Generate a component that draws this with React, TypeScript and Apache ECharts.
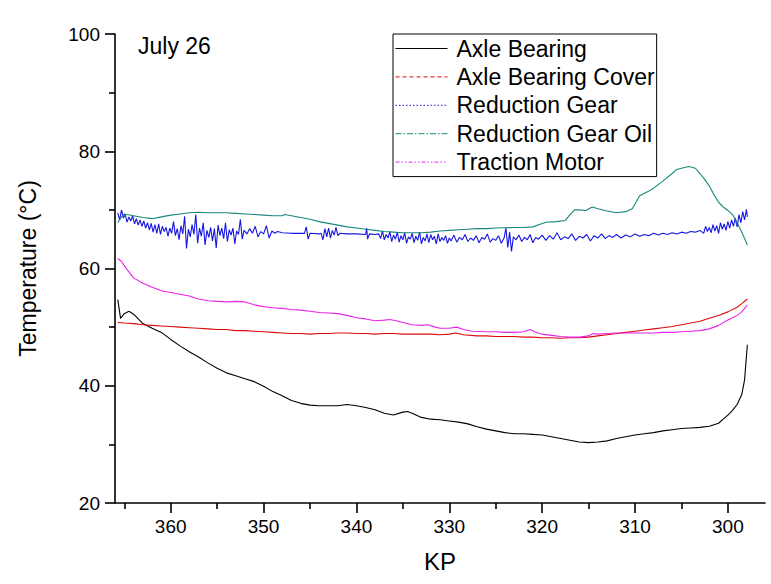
import React, { useEffect, useRef } from "react";
import * as echarts from "echarts";

const FONT = "'Liberation Sans', Arial, Helvetica, sans-serif";

const seriesNames = [
  "Axle Bearing",
  "Axle Bearing Cover",
  "Reduction Gear",
  "Reduction Gear Oil",
  "Traction Motor",
];
const seriesColors = ["#000000", "#dd0a0a", "#1616e2", "#17877c", "#e824e8"];

const xMajorTicks = [300, 310, 320, 330, 340, 350, 360];
const xMinorTicks = [305, 315, 325, 335, 345, 355, 365];
const xRange = [296, 366];
const yRange = [20, 100];

// [KP, temperature °C]
const axleBearing: [number, number][] = [
  [365.7, 54.7], [365.4, 51.5], [365.0, 52.3], [364.5, 52.7], [364, 52.2], [363, 50.6],
  [362, 49.8], [361, 49.1], [360, 47.9], [359, 46.8], [358, 45.8], [357, 44.9], [356, 43.9],
  [355, 43.0], [354, 42.2], [353, 41.7], [352, 41.2], [351, 40.7], [350, 39.9], [349, 39.0],
  [348, 38.3], [347, 37.5], [346, 37.0], [345, 36.7], [344, 36.6], [343, 36.6], [342, 36.6],
  [341, 36.8], [340, 36.6], [339, 36.3], [338, 35.9], [337, 35.3], [336, 35.0], [335, 35.5],
  [334.5, 35.6], [334, 35.3], [333, 34.6], [332, 34.3], [331, 34.2], [330, 34.0], [329, 33.8],
  [328, 33.5], [327, 33.0], [326, 32.6], [325, 32.3], [324, 32.0], [323, 31.8], [322, 31.8],
  [321, 31.7], [320, 31.6], [319, 31.3], [318, 31.0], [317, 30.7], [316, 30.4], [315, 30.3],
  [314, 30.4], [313, 30.6], [312, 31.0], [311, 31.3], [310, 31.6], [309, 31.8], [308, 32.0],
  [307, 32.3], [306, 32.5], [305, 32.7], [304, 32.8], [303, 32.9], [302, 33.1], [301, 33.6],
  [300.5, 34.3], [300, 35.0], [299.5, 35.8], [299, 36.8], [298.5, 38.5], [298.2, 41.0],
  [297.9, 47.0],
];

const axleBearingCover: [number, number][] = [
  [365.7, 50.8], [365, 50.7], [364, 50.6], [363, 50.4], [362, 50.3], [361, 50.2], [360, 50.1],
  [359, 50.0], [358, 49.9], [357, 49.8], [356, 49.7], [355, 49.6], [354, 49.6], [353, 49.4],
  [352, 49.4], [351, 49.3], [350, 49.2], [349, 49.1], [348, 49.0], [347, 48.9], [346, 48.9],
  [345, 48.8], [344, 48.9], [343, 48.9], [342, 49.0], [341, 49.0], [340, 48.9], [339, 48.9],
  [338, 48.8], [337, 48.9], [336, 48.9], [335, 48.8], [334, 48.8], [333, 48.8], [332, 48.8],
  [331, 48.7], [330, 48.8], [329.3, 49.0], [328.5, 48.7], [327, 48.5], [326, 48.5], [325, 48.4],
  [324, 48.4], [323, 48.4], [322, 48.3], [321, 48.3], [320, 48.2], [319, 48.2], [318, 48.1],
  [317, 48.2], [316, 48.2], [315, 48.3], [314, 48.5], [313, 48.7], [312, 48.9], [311, 49.1],
  [310, 49.3], [309, 49.5], [308, 49.7], [307, 49.9], [306, 50.1], [305, 50.4], [304, 50.7],
  [303, 51.0], [302, 51.5], [301, 52.0], [300, 52.6], [299, 53.4], [298.5, 54.0], [297.9, 54.8],
];

const reductionGear: [number, number][] = [
  [365.7, 69.5], [365.5, 68.3], [365.3, 70.0], [365.1, 68.6], [364.9, 69.2], [364.7, 67.9],
  [364.5, 68.8], [364.3, 68.1], [364.1, 69.0], [363.9, 67.6], [363.7, 68.5], [363.5, 67.4],
  [363.3, 68.3], [363.1, 67.2], [362.9, 68.1], [362.7, 66.9], [362.5, 67.8], [362.3, 66.6],
  [362.1, 67.7], [361.9, 66.2], [361.7, 67.5], [361.5, 66.0], [361.3, 67.6], [361.1, 65.8],
  [360.9, 67.2], [360.7, 66.3], [360.5, 67.0], [360.3, 65.5], [360.1, 66.9], [359.9, 66.0],
  [359.7, 68.0], [359.5, 65.6], [359.3, 66.8], [359.1, 64.9], [358.9, 67.3], [358.7, 65.9],
  [358.5, 68.9], [358.3, 63.4], [358.1, 66.7], [357.9, 65.4], [357.7, 67.5], [357.5, 65.8],
  [357.3, 69.2], [357.1, 64.3], [356.9, 66.9], [356.7, 65.5], [356.5, 67.8], [356.3, 64.0],
  [356.1, 66.5], [355.9, 65.3], [355.7, 67.0], [355.5, 64.7], [355.3, 66.8], [355.1, 63.5],
  [354.9, 67.4], [354.7, 65.6], [354.5, 66.9], [354.3, 65.1], [354.1, 67.8], [353.9, 64.6],
  [353.7, 66.6], [353.5, 65.7], [353.3, 66.9], [353.1, 64.2], [352.9, 66.4], [352.7, 65.8],
  [352.5, 68.4], [352.3, 65.0], [352.1, 66.5], [351.8, 65.9], [351.5, 66.8], [351.2, 66.0],
  [350.9, 67.2], [350.6, 65.4], [350.3, 66.3], [350.0, 65.9], [349.7, 67.3], [349.4, 65.2],
  [349.1, 66.4], [348.8, 66.0], [348.5, 66.3], [348, 66.1], [347, 66.0], [346, 66.0],
  [345.6, 66.0], [345.4, 67.1], [345.2, 65.0], [345.0, 66.0], [344, 65.9], [343.8, 66.0],
  [343.6, 64.9], [343.4, 66.8], [343.2, 65.4], [343.0, 66.9], [342.8, 65.2], [342.6, 66.5],
  [342.4, 65.7], [342.2, 67.0], [342.0, 65.6], [341.8, 66.0], [341, 65.9], [340, 65.9],
  [339, 65.8], [338.9, 66.9], [338.8, 65.0], [338.6, 65.9], [338, 65.8], [337.6, 65.9],
  [337.4, 65.1], [337.2, 66.4], [337.0, 64.9], [336.8, 65.8], [336.6, 65.2], [336.4, 66.3],
  [336.2, 64.6], [336.0, 65.7], [335.8, 65.0], [335.6, 66.2], [335.4, 64.5], [335.2, 65.6],
  [335.0, 64.9], [334.8, 66.1], [334.6, 64.3], [334.4, 65.4], [334.2, 65.0], [334.0, 66.0],
  [333.8, 64.4], [333.6, 65.5], [333.4, 64.8], [333.2, 66.2], [333.0, 64.2], [332.8, 65.3],
  [332.6, 64.7], [332.4, 65.9], [332.2, 64.4], [332.0, 65.8], [331.8, 64.9], [331.6, 65.5],
  [331.4, 64.2], [331.2, 65.9], [331.0, 64.6], [330.8, 65.3], [330.6, 64.8], [330.4, 65.6],
  [330.2, 64.3], [330.0, 65.2], [329.8, 64.7], [329.5, 65.7], [329.2, 64.5], [328.9, 65.3],
  [328.6, 64.9], [328.3, 65.8], [328.0, 64.6], [327.7, 65.2], [327.4, 64.8], [327.1, 65.6],
  [326.8, 64.4], [326.5, 65.3], [326.2, 65.0], [325.9, 65.9], [325.6, 64.5], [325.3, 65.1],
  [325.0, 64.8], [324.7, 65.6], [324.4, 64.3], [324.1, 65.2], [323.9, 66.9], [323.7, 63.6],
  [323.5, 66.2], [323.3, 62.9], [323.1, 65.4], [322.8, 64.9], [322.5, 65.7], [322.2, 64.6],
  [321.9, 65.3], [321.6, 64.9], [321.3, 65.8], [321.0, 64.4], [320.7, 65.3], [320.4, 65.0],
  [320.0, 65.7], [319.6, 64.8], [319.2, 65.6], [318.8, 65.0], [318.4, 66.1], [318.0, 64.9],
  [317.6, 65.4], [317.2, 65.1], [316.8, 65.9], [316.4, 64.8], [316.0, 65.5], [315.6, 65.2],
  [315.2, 65.8], [314.8, 64.7], [314.4, 65.6], [314.0, 65.2], [313.6, 65.9], [313.2, 65.1],
  [312.8, 65.6], [312.4, 65.3], [312.0, 65.8], [311.5, 65.2], [311.0, 65.7], [310.5, 65.4],
  [310.0, 65.9], [309.5, 65.5], [309.0, 65.8], [308.5, 65.6], [308.0, 66.0], [307.5, 65.7],
  [307.0, 66.0], [306.5, 65.8], [306.0, 66.1], [305.5, 65.9], [305.0, 66.2], [304.5, 66.0],
  [304.0, 66.3], [303.5, 66.2], [303.0, 66.5], [302.6, 66.0], [302.4, 67.2], [302.2, 66.3],
  [302.0, 67.0], [301.8, 66.1], [301.6, 67.5], [301.4, 66.4], [301.2, 67.3], [301.0, 66.0],
  [300.8, 67.8], [300.6, 66.7], [300.4, 67.6], [300.2, 66.5], [300.0, 68.0], [299.8, 66.9],
  [299.6, 68.3], [299.4, 67.2], [299.2, 68.6], [299.0, 67.1], [298.8, 69.2], [298.6, 67.8],
  [298.4, 69.7], [298.2, 68.3], [298.0, 70.1], [297.9, 68.8],
];

const reductionGearOil: [number, number][] = [
  [365.7, 67.8], [365.4, 68.6], [365.0, 69.3], [364, 69.0], [363, 68.7], [362, 68.5],
  [361, 68.8], [360, 69.1], [359, 69.3], [358, 69.5], [357, 69.6], [356, 69.5], [355, 69.5],
  [354, 69.5], [353, 69.4], [352, 69.3], [351, 69.2], [350, 69.1], [349, 69.0], [348, 69.0],
  [347.7, 69.2], [347, 69.0], [346, 68.7], [345, 68.4], [344, 68.0], [343, 67.7], [342, 67.4],
  [341, 67.1], [340, 66.9], [339, 66.7], [338, 66.5], [337, 66.3], [336, 66.2], [335, 66.1],
  [334, 66.1], [333, 66.1], [332, 66.2], [331, 66.4], [330, 66.5], [329, 66.6], [328, 66.7],
  [327, 66.8], [326, 66.8], [325, 66.9], [324, 66.95], [323, 67.0], [322, 67.0], [321, 67.1],
  [320.3, 67.5], [319.6, 67.9], [318.5, 68.0], [317.5, 68.2], [317, 69.2], [316.5, 70.0],
  [316, 70.0], [315.3, 69.9], [314.6, 70.5], [314, 70.2], [313, 69.8], [312, 69.5],
  [311, 69.7], [310.3, 70.2], [310, 71.0], [309.5, 72.4], [308.5, 73.2], [308, 73.7],
  [307, 74.9], [306, 76.2], [305.5, 76.9], [305, 77.1], [304.2, 77.4], [303.5, 77.1],
  [303, 76.2], [302.5, 75.2], [302, 74.1], [301.5, 72.6], [301, 71.3], [300.5, 70.5],
  [300, 69.9], [299.5, 69.2], [299, 67.8], [298.5, 66.2], [297.9, 64.0],
];

const tractionMotor: [number, number][] = [
  [365.7, 61.7], [365.3, 61.2], [364.7, 59.8], [364, 58.4], [363, 57.5], [362, 56.8],
  [361, 56.2], [360, 55.9], [359, 55.6], [358, 55.3], [357, 54.8], [356, 54.5], [355, 54.4],
  [354, 54.3], [353, 54.4], [352, 54.3], [351, 53.8], [350, 53.5], [349, 53.3], [348, 53.2],
  [347, 53.0], [346, 52.9], [345, 52.7], [344, 52.5], [343, 52.4], [342, 52.3], [341, 52.0],
  [340, 51.6], [339, 51.4], [338, 51.1], [337, 51.2], [336.4, 51.3], [335.5, 51.0],
  [335, 50.8], [334, 50.4], [333, 50.3], [332.3, 50.4], [331.5, 50.0], [331, 49.8],
  [330, 49.8], [329.2, 50.0], [328.5, 49.6], [327.5, 49.3], [326, 49.2], [325, 49.2],
  [324, 49.1], [323, 49.1], [322, 49.2], [321.3, 49.6], [320.5, 49.0], [320, 48.8],
  [319, 48.6], [318, 48.4], [317, 48.3], [316, 48.3], [315, 48.5], [314.5, 48.9],
  [314, 48.8], [313, 48.9], [312, 49.0], [311, 49.0], [310, 49.0], [309, 49.0], [308, 49.0],
  [307, 49.1], [306, 49.1], [305, 49.2], [304, 49.3], [303, 49.4], [302, 49.7], [301, 50.3],
  [300, 51.2], [299, 52.0], [298.5, 52.6], [297.9, 53.8],
];

const seriesData = [axleBearing, axleBearingCover, reductionGear, reductionGearOil, tractionMotor];
const legendDash: (string | number[])[] = [
  "solid",
  [4, 3],
  [1.5, 2],
  [6, 2, 1.5, 2],
  [4, 2, 1.5, 2, 1.5, 2],
];

export default function App() {
  const ref = useRef<HTMLDivElement>(null);

  useEffect(() => {
    if (!ref.current) return;
    const chart = echarts.init(ref.current, null, { renderer: "svg" });
    const axisLine = { show: true, lineStyle: { color: "#000", width: 1.6 } };

    chart.setOption({
      animation: false,
      backgroundColor: "#fff",
      textStyle: { fontFamily: FONT },
      grid: { left: 115, right: 6, top: 34, bottom: 81, containLabel: false },
      legend: {
        orient: "vertical",
        left: 393,
        top: 34,
        selectedMode: false,
        itemWidth: 52,
        itemHeight: 14,
        itemGap: 5.4,
        padding: [3, 2, 3, 2],
        borderColor: "#000",
        borderWidth: 1,
        backgroundColor: "#fff",
        textStyle: { fontSize: 23, fontFamily: FONT, color: "#000", padding: [0, 0, 0, 4] },
        data: seriesNames.map((name, i) => ({
          name,
          itemStyle: { opacity: 0 },
          lineStyle: { type: legendDash[i], width: 1, color: seriesColors[i] },
        })),
      },
      xAxis: [
        {
          type: "value",
          min: xRange[0],
          max: xRange[1],
          inverse: true,
          position: "bottom",
          name: "KP",
          nameLocation: "middle",
          nameGap: 46,
          nameTextStyle: { fontSize: 24, color: "#000", fontFamily: FONT },
          axisLine,
          axisTick: { show: true, inside: false, length: 10, customValues: xMajorTicks, lineStyle: { color: "#000", width: 1.6 } },
          axisLabel: { show: true, customValues: xMajorTicks, fontSize: 19, color: "#000", margin: 14, fontFamily: FONT },
          splitLine: { show: false },
        },
        {
          type: "value",
          min: xRange[0],
          max: xRange[1],
          inverse: true,
          position: "bottom",
          axisLine: { show: false },
          axisTick: { show: true, inside: false, length: 6, customValues: xMinorTicks, lineStyle: { color: "#000", width: 1.6 } },
          axisLabel: { show: false },
          splitLine: { show: false },
        },
      ],
      yAxis: {
        type: "value",
        min: yRange[0],
        max: yRange[1],
        interval: 20,
        name: "Temperature (°C)",
        nameLocation: "middle",
        nameGap: 76,
        nameTextStyle: { fontSize: 23, color: "#000", fontFamily: FONT },
        axisLine,
        axisTick: { show: true, inside: false, length: 10, lineStyle: { color: "#000", width: 1.6 } },
        minorTick: { show: true, splitNumber: 2, length: 6, lineStyle: { color: "#000", width: 1.6 } },
        axisLabel: { fontSize: 19, color: "#000", margin: 15, fontFamily: FONT },
        splitLine: { show: false },
      },
      graphic: [
        {
          type: "text",
          left: 138,
          top: 34,
          style: { text: "July 26", fontSize: 23, fontFamily: FONT, fill: "#000" },
        },
      ],
      series: seriesNames.map((name, i) => ({
        name,
        type: "line",
        xAxisIndex: 0,
        data: seriesData[i],
        symbol: "none",
        showSymbol: false,
        smooth: false,
        lineStyle: { color: seriesColors[i], width: 1.1 },
        itemStyle: { color: seriesColors[i] },
        z: i === 2 ? 1 : 2,
      })),
    });

    return () => chart.dispose();
  }, []);

  return (
    <div
      ref={ref}
      style={{ position: "absolute", left: 0, top: 0, width: 771, height: 584, background: "#fff" }}
    />
  );
}
